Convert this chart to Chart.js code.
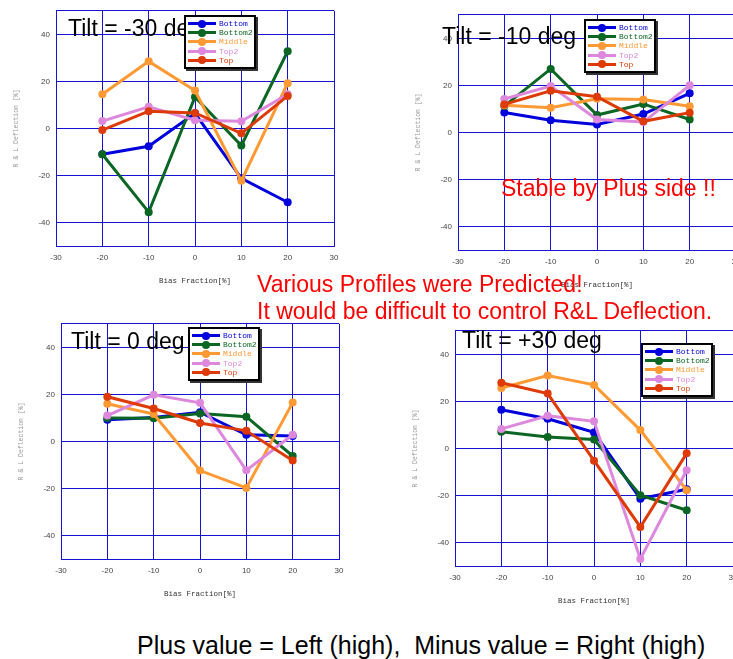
<!DOCTYPE html>
<html>
<head>
<meta charset="utf-8">
<script src="https://cdn.jsdelivr.net/npm/chart.js@4"></script>
<style>
  html, body { margin: 0; padding: 0; background: #fff; }
  #page { position: relative; width: 733px; height: 659px; overflow: hidden; background: #fff; }
  #page canvas { position: absolute; }
  .tilt { position: absolute; z-index: 1; font: 23px 'Liberation Sans', Arial, sans-serif; line-height: 23px; color: #000; white-space: pre; }
  .legend { position: absolute; z-index: 2; box-sizing: border-box; width: 72px; height: 54px; padding: 2px; background: #fff; border: 2px solid #000; box-shadow: 2px 2px 0 #333; }
  .legend .row { height: 9.2px; display: flex; align-items: center; }
  .legend .sample { position: relative; flex: none; width: 28px; height: 9px; }
  .legend .ln { position: absolute; left: 0; right: 0; top: 3px; height: 3px; }
  .legend .dot { position: absolute; left: 10px; top: 0.5px; width: 8px; height: 8px; border-radius: 50%; }
  .legend .txt { margin-left: 3px; font: 8px 'Liberation Mono', monospace; line-height: 9px; white-space: nowrap; }
  .note { position: absolute; z-index: 3; font: 23px 'Liberation Sans', Arial, sans-serif; line-height: 23px; color: #ff0000; white-space: pre; }
  .foot { position: absolute; z-index: 3; font: 25px 'Liberation Sans', Arial, sans-serif; line-height: 25px; color: #000; white-space: pre; }
</style>
</head>
<body>
<div id="page"></div>
<script>
// Bias fraction positions [%] and axis ticks
const biasFraction = [-20, -10, 0, 10, 20];
const xTicks = [-30, -20, -10, 0, 10, 20, 30];
const yTicks = [-40, -20, 0, 20, 40];
const seriesNames = ['Bottom', 'Bottom2', 'Middle', 'Top2', 'Top'];
const seriesColors = ['#0000dd', '#0b6623', '#ff9933', '#dd88dd', '#dd3a06'];
const panelTitles = ['Tilt = -30 deg', 'Tilt = -10 deg', 'Tilt = 0 deg', 'Tilt = +30 deg'];

// R & L deflection [%], tilt = -30 deg
const tiltM30Bottom  = [-11.0, -7.6, 6.4, -21.2, -31.4];
const tiltM30Bottom2 = [-11.0, -35.6, 13.4, -7.3, 32.8];
const tiltM30Middle  = [14.5, 28.5, 16.1, -22.3, 19.2];
const tiltM30Top2    = [3.1, 9.2, 3.5, 3.0, 14.5];
const tiltM30Top     = [-0.7, 7.3, 6.6, -2.1, 13.8];

// tilt = -10 deg
const tiltM10Bottom  = [8.5, 5.2, 3.4, 7.8, 16.6];
const tiltM10Bottom2 = [11.2, 27.0, 7.4, 12.1, 5.5];
const tiltM10Middle  = [11.5, 10.5, 14.3, 14.0, 11.1];
const tiltM10Top2    = [14.2, 19.7, 5.5, 4.4, 20.0];
const tiltM10Top     = [11.9, 17.7, 15.2, 4.7, 8.4];

// tilt = 0 deg
const tilt0Bottom  = [9.2, 10.2, 12.4, 2.8, 2.3];
const tilt0Bottom2 = [9.9, 9.8, 11.9, 10.5, -6.2];
const tilt0Middle  = [16.0, 11.6, -12.4, -19.8, 16.5];
const tilt0Top2    = [11.0, 19.8, 16.4, -12.3, 2.8];
const tilt0Top     = [19.0, 14.0, 7.8, 4.5, -8.1];

// tilt = +30 deg
const tiltP30Bottom  = [16.4, 12.6, 6.8, -21.4, -17.4];
const tiltP30Bottom2 = [7.1, 4.8, 3.8, -19.9, -26.3];
const tiltP30Middle  = [25.7, 31.0, 27.0, 7.8, -17.8];
const tiltP30Top2    = [8.3, 13.9, 11.5, -47.0, -9.3];
const tiltP30Top     = [27.9, 23.3, -5.2, -33.4, -2.1];

const panelSeries = [
  [tiltM30Bottom, tiltM30Bottom2, tiltM30Middle, tiltM30Top2, tiltM30Top],
  [tiltM10Bottom, tiltM10Bottom2, tiltM10Middle, tiltM10Top2, tiltM10Top],
  [tilt0Bottom, tilt0Bottom2, tilt0Middle, tilt0Top2, tilt0Top],
  [tiltP30Bottom, tiltP30Bottom2, tiltP30Middle, tiltP30Top2, tiltP30Top]
];

// Page placement of each panel (canvas origin), its legend box and title
const panelLayout = [
  { cx: 0,   cy: 0,   lx: 184, ly: 15,  tx: 68,  ty: 17 },
  { cx: 402, cy: 4,   lx: 584, ly: 19,  tx: 442, ty: 25 },
  { cx: 5,   cy: 313, lx: 188, ly: 327, tx: 71,  ty: 330 },
  { cx: 399, cy: 320, lx: 641, ly: 343, tx: 462, ty: 329 }
];

const gridColor = '#1414d2';
const page = document.getElementById('page');

function buildLegend(chart, x, y) {
  const box = document.createElement('div');
  box.className = 'legend';
  box.style.left = x + 'px';
  box.style.top = y + 'px';
  chart.data.datasets.forEach(ds => {
    const row = document.createElement('div');
    row.className = 'row';
    const sample = document.createElement('div');
    sample.className = 'sample';
    const ln = document.createElement('div');
    ln.className = 'ln';
    ln.style.background = ds.borderColor;
    const dot = document.createElement('div');
    dot.className = 'dot';
    dot.style.background = ds.borderColor;
    sample.appendChild(ln);
    sample.appendChild(dot);
    const txt = document.createElement('span');
    txt.className = 'txt';
    txt.style.color = ds.borderColor;
    txt.textContent = ds.label;
    row.appendChild(sample);
    row.appendChild(txt);
    box.appendChild(row);
  });
  page.appendChild(box);
}

function makePanel(p) {
  const L = panelLayout[p];
  const canvas = document.createElement('canvas');
  canvas.width = 340;
  canvas.height = 290;
  canvas.style.left = L.cx + 'px';
  canvas.style.top = L.cy + 'px';
  page.appendChild(canvas);

  const datasets = seriesNames.map((name, i) => ({
    label: name,
    data: biasFraction.map((x, k) => ({ x: x, y: panelSeries[p][i][k] })),
    borderColor: seriesColors[i],
    backgroundColor: seriesColors[i],
    pointBackgroundColor: seriesColors[i],
    pointBorderWidth: 0,
    pointRadius: 4,
    borderWidth: 3,
    tension: 0,
    clip: false,
    order: seriesNames.length - 1 - i
  }));

  const chart = new Chart(canvas, {
    type: 'line',
    data: { datasets: datasets },
    options: {
      responsive: false,
      animation: false,
      layout: { padding: { left: 6, top: 10, right: 6, bottom: 0 } },
      plugins: { legend: { display: false }, tooltip: { enabled: false } },
      scales: {
        x: {
          type: 'linear',
          min: -30,
          max: 30,
          afterBuildTicks: s => { s.ticks = xTicks.map(v => ({ value: v })); },
          afterFit: s => { s.height = 44; },
          grid: { color: gridColor, lineWidth: 1, drawTicks: true, tickLength: 7, tickColor: 'rgba(0,0,0,0)' },
          border: { display: true, color: gridColor, width: 1 },
          ticks: {
            autoSkip: false,
            maxRotation: 0,
            padding: 0,
            color: '#444',
            font: { family: "'Liberation Sans', Arial, sans-serif", size: 8 }
          },
          title: {
            display: true,
            text: 'Bias Fraction[%]',
            color: '#333',
            padding: { top: 0, bottom: 4 },
            font: { family: "'Liberation Mono', monospace", size: 7.5 }
          }
        },
        y: {
          type: 'linear',
          min: -50,
          max: 50,
          afterBuildTicks: s => { s.ticks = [-50].concat(yTicks, [50]).map(v => ({ value: v })); },
          afterFit: s => { s.width = 50; },
          grid: { color: gridColor, lineWidth: 1, drawTicks: false },
          border: { display: true, color: gridColor, width: 1 },
          ticks: {
            autoSkip: false,
            padding: 6,
            color: '#444',
            font: { family: "'Liberation Sans', Arial, sans-serif", size: 8 },
            callback: v => (yTicks.includes(v) ? String(v) : '')
          },
          title: {
            display: true,
            text: 'R & L Deflection [%]',
            color: '#999',
            padding: { top: 6.6, bottom: 0 },
            font: { family: "'Liberation Mono', monospace", size: 6.5 }
          }
        }
      }
    }
  });

  const title = document.createElement('div');
  title.className = 'tilt';
  title.style.left = L.tx + 'px';
  title.style.top = L.ty + 'px';
  title.textContent = panelTitles[p];
  page.appendChild(title);

  buildLegend(chart, L.lx, L.ly);
}

for (let p = 0; p < 4; p++) makePanel(p);

// Remarks written across the figure
const notes = [
  { cls: 'note', x: 501, y: 177, text: 'Stable by Plus side !!' },
  { cls: 'note', x: 257, y: 273, text: 'Various Profiles were Predicted!' },
  { cls: 'note', x: 257, y: 300, text: 'It would be difficult to control R&L Deflection.' },
  { cls: 'foot', x: 137, y: 633, text: 'Plus value = Left (high),  Minus value = Right (high)' }
];
notes.forEach(n => {
  const d = document.createElement('div');
  d.className = n.cls;
  d.style.left = n.x + 'px';
  d.style.top = n.y + 'px';
  d.textContent = n.text;
  page.appendChild(d);
});
</script>
</body>
</html>
